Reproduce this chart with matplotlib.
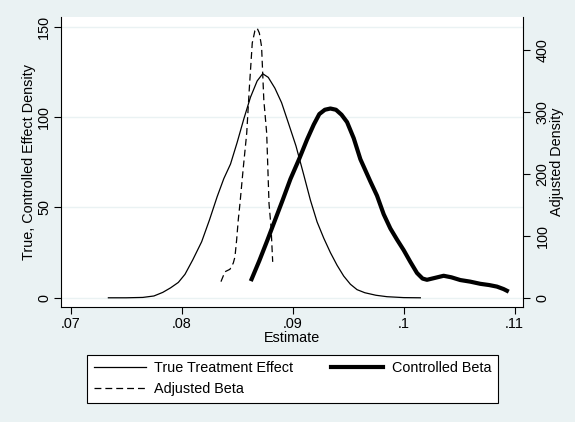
import numpy as np
import matplotlib
matplotlib.use("Agg")
import matplotlib.pyplot as plt

# True treatment effect density (left axis)
true_x = [.0734, .0750, .0765, .0775, .0783, .0790, .0797, .0803, .0810, .0818,
          .0825, .0832, .0838, .0844, .0850, .0856, .0862, .0868, .0873, .0878,
          .0884, .0890, .0896, .0903, .0910, .0916, .0922, .0928, .0934, .0940,
          .0946, .0952, .0958, .0965, .0975, .0985, .1000, .1015]
true_y = [0, 0, 0.2, 1, 3, 5.5, 8.5, 13, 21, 31,
          43, 56, 66, 74, 86, 99, 111, 120, 124, 122,
          116, 108, 97, 84, 68, 54, 42, 33, 25, 18,
          12, 7.5, 4.5, 2.8, 1.4, 0.6, 0.1, 0]

# Adjusted beta density (right axis)
adj_x = [.08354, .0839, .08435, .08465, .0848, .08495, .0851, .08525, .08555, .08586,
         .0861, .08636, .0866, .0868, .0870, .0872, .0874, .08766, .08787, .08805, .0882]
adj_y = [26, 42, 46, 56, 66, 93, 126, 152, 210, 266,
         340, 412, 432, 436, 428, 406, 320, 266, 152, 115, 58]

# Controlled beta density (right axis)
ctrl_x = [.0863, .0870, .0877, .0884, .0891, .0898, .0906, .0913, .0919, .0924,
          .0929, .0934, .0939, .0944, .0949, .0955, .0961, .0970, .0976, .0982,
          .0988, .0994, .1000, .1006, .1012, .1017, .1021, .1028, .1036, .1043,
          .1051, .1060, .1069, .1077, .1084, .1090, .1093]
ctrl_y = [30, 60, 92, 125, 158, 192, 225, 256, 280, 297,
          304, 306, 304, 296, 284, 258, 224, 188, 165, 135,
          112, 94, 77, 58, 40, 31, 29, 32, 35.5, 33,
          28.6, 26, 22.5, 20.5, 18, 14, 11.3]

x_ticks = [.07, .08, .09, .1, .11]
x_labels = [".07", ".08", ".09", ".1", ".11"]
left_ticks = [0, 50, 100, 150]
right_ticks = [0, 100, 200, 300, 400]

bg = "#EAF2F3"
plt.rcParams["font.family"] = ["Liberation Sans", "DejaVu Sans"]
plt.rcParams["font.size"] = 10.4

fig = plt.figure(figsize=(5.75, 4.22), dpi=100, facecolor=bg)
ax = fig.add_axes([61 / 575, 1 - 307 / 422, 462 / 575, 290 / 422])
ax2 = ax.twinx()

l1, = ax.plot(true_x, true_y, color="black", lw=0.9, label="True Treatment Effect")
l2, = ax2.plot(adj_x, adj_y, color="black", lw=0.9, dashes=(5.5, 3.2), label="Adjusted Beta")
l3, = ax2.plot(ctrl_x, ctrl_y, color="black", lw=3, label="Controlled Beta")

ax.set_xlim(0.06913, 0.11075)
ax.set_ylim(-5.1, 155.4)
ax2.set_ylim(-15, 454)

ax.set_xticks(x_ticks)
ax.set_xticklabels(x_labels)
ax.set_yticks(left_ticks)
ax2.set_yticks(right_ticks)

ax.grid(axis="y", color=bg, lw=1)
ax.set_axisbelow(True)

for a in (ax, ax2):
    a.spines["top"].set_visible(False)
    a.tick_params(direction="out", length=5, width=0.8, colors="black")
ax.spines["right"].set_visible(False)
ax2.spines["left"].set_visible(False)
ax2.spines["bottom"].set_visible(False)

ax.tick_params(axis="y", labelrotation=90, pad=2)
ax2.tick_params(axis="y", labelrotation=90, pad=4)
ax.tick_params(axis="x", pad=2)
for t in ax.get_yticklabels():
    t.set_va("center")
for t in ax2.get_yticklabels():
    t.set_va("center")

ax.set_xlabel("Estimate", labelpad=0)
ax.set_ylabel("True, Controlled Effect Density", labelpad=1)
ax2.set_ylabel("Adjusted Density", labelpad=0)

leg = fig.legend(handles=[l1, l2, l3], ncol=2, loc="upper left",
                 bbox_to_anchor=(87 / 575, 1 - 355 / 422, 411 / 575, 0),
                 mode="expand", frameon=True, fancybox=False, framealpha=1,
                 edgecolor="black", handlelength=3.6, handletextpad=0.6,
                 borderpad=0.45, labelspacing=0.45, borderaxespad=0)
leg.get_frame().set_linewidth(0.8)

fig.savefig("out.png", dpi=100, facecolor=bg)
